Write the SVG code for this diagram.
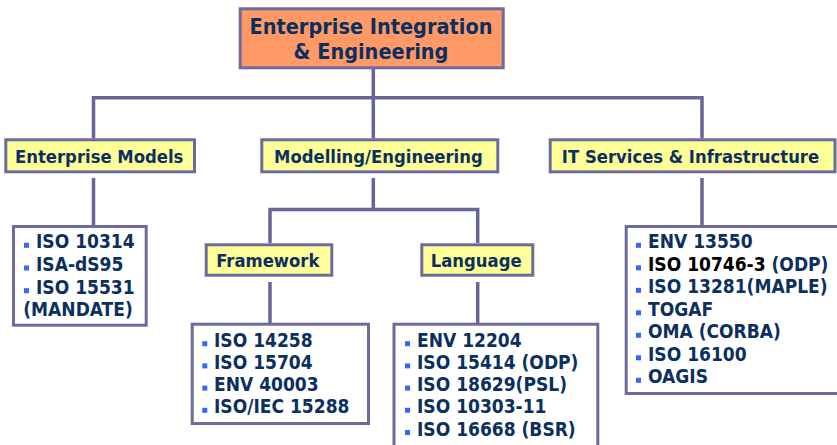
<svg xmlns="http://www.w3.org/2000/svg" width="837" height="445" viewBox="0 0 837 445">
  <style>
    text { font-family: "DejaVu Sans Condensed", "DejaVu Sans", Verdana, sans-serif; font-stretch: condensed; font-weight: bold; fill: #0B3060; }
    .box { stroke: #6B6B9C; stroke-width: 3; }
    .root { fill: #FF9966; }
    .head { fill: #FFFF99; }
    .list { fill: #FFFFFF; }
    .title { font-size: 21.5px; text-anchor: middle; }
    .label { font-size: 18.3px; text-anchor: middle; }
    .item { font-size: 19px; }
    .dark { fill: #000000; }
    .links path { fill: none; stroke: #666699; stroke-width: 3.5; stroke-linejoin: miter; stroke-linecap: butt; }
  </style>
  <defs>
    <rect id="bullet" width="5" height="5" fill="#3366FF"/>
  </defs>

  <rect width="837" height="445" fill="#FFFFFF"/>

  <g class="links">
    <path d="M373.3 69 V97.8 M93.5 138.5 V97.8 H702 V138.5 M373.3 97.8 V138.5"/>
    <path d="M93.5 178 V225"/>
    <path d="M373.3 178 V209.5 M270 243 V209.5 H477.7 V243"/>
    <path d="M270 282 V323"/>
    <path d="M477.7 282 V323"/>
    <path d="M702 178 V225"/>
  </g>

  <g id="root">
    <rect class="box root" x="240.2" y="8.8" width="263" height="59"/>
    <text class="title" x="371" y="34.3">Enterprise Integration</text>
    <text class="title" x="371" y="59.3">&amp; Engineering</text>
  </g>

  <g id="enterprise-models">
    <rect class="box head" x="5.8" y="139.8" width="188.7" height="32"/>
    <text class="label" x="99.2" y="163.3">Enterprise Models</text>
  </g>

  <g id="modelling-engineering">
    <rect class="box head" x="261.8" y="139.8" width="236" height="32"/>
    <text class="label" x="378.4" y="163.3">Modelling/Engineering</text>
  </g>

  <g id="it-services">
    <rect class="box head" x="550.2" y="139.8" width="284.8" height="32"/>
    <text class="label" x="690.5" y="163.3">IT Services &amp; Infrastructure</text>
  </g>

  <g id="framework">
    <rect class="box head" x="206.2" y="244.8" width="125.6" height="30.4"/>
    <text class="label" x="267.8" y="267">Framework</text>
  </g>

  <g id="language">
    <rect class="box head" x="421.8" y="244.8" width="111" height="30.4"/>
    <text class="label" x="476.2" y="267">Language</text>
  </g>

  <g id="enterprise-models-list">
    <rect class="box list" x="13.5" y="226.5" width="132.7" height="98.7"/>
    <use href="#bullet" x="24" y="242.8"/>
    <use href="#bullet" x="24" y="265.5"/>
    <use href="#bullet" x="24" y="288.2"/>
    <text class="item" x="36" y="248.3">ISO 10314</text>
    <text class="item" x="36" y="271">ISA-dS95</text>
    <text class="item" x="36" y="293.7">ISO 15531</text>
    <text class="item" x="23.3" y="316.4">(MANDATE)</text>
  </g>

  <g id="framework-list">
    <rect class="box list" x="192.2" y="324.2" width="176.3" height="99.3"/>
    <use href="#bullet" x="202.3" y="341.2"/>
    <use href="#bullet" x="202.3" y="363.4"/>
    <use href="#bullet" x="202.3" y="385.6"/>
    <use href="#bullet" x="202.3" y="407.8"/>
    <text class="item" x="214" y="346.7">ISO 14258</text>
    <text class="item" x="214" y="368.9">ISO 15704</text>
    <text class="item" x="214" y="391.1">ENV 40003</text>
    <text class="item" x="214" y="413.3">ISO/IEC 15288</text>
  </g>

  <g id="language-list">
    <rect class="box list" x="394" y="324.2" width="203.8" height="130"/>
    <use href="#bullet" x="405" y="341.2"/>
    <use href="#bullet" x="405" y="363.4"/>
    <use href="#bullet" x="405" y="385.6"/>
    <use href="#bullet" x="405" y="407.8"/>
    <use href="#bullet" x="405" y="430"/>
    <text class="item" x="417" y="346.7">ENV 12204</text>
    <text class="item" x="417" y="368.9">ISO 15414 (ODP)</text>
    <text class="item" x="417" y="391.1">ISO 18629(PSL)</text>
    <text class="item" x="417" y="413.3">ISO 10303-11</text>
    <text class="item" x="417" y="435.5">ISO 16668 (BSR)</text>
  </g>

  <g id="it-services-list">
    <rect class="box list" x="626.2" y="226.5" width="220" height="167"/>
    <use href="#bullet" x="636" y="242.8"/>
    <use href="#bullet" x="636" y="265.3"/>
    <use href="#bullet" x="636" y="287.8"/>
    <use href="#bullet" x="636" y="310.3"/>
    <use href="#bullet" x="636" y="332.8"/>
    <use href="#bullet" x="636" y="355.3"/>
    <use href="#bullet" x="636" y="377.8"/>
    <text class="item" x="648" y="248.3">ENV 13550</text>
    <text class="item" x="648" y="270.8"><tspan class="dark">ISO 10746-3</tspan> (ODP)</text>
    <text class="item" x="648" y="293.3">ISO 13281(MAPLE)</text>
    <text class="item" x="648" y="315.8">TOGAF</text>
    <text class="item" x="648" y="338.3">OMA (CORBA)</text>
    <text class="item" x="648" y="360.8">ISO 16100</text>
    <text class="item" x="648" y="383.3">OAGIS</text>
  </g>
</svg>
